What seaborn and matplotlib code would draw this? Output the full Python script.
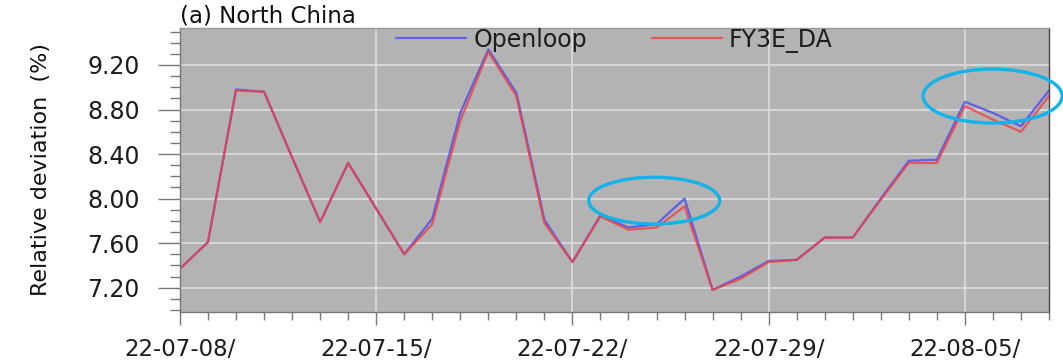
import pandas as pd
import matplotlib.pyplot as plt
import matplotlib.dates as mdates
from matplotlib.ticker import MultipleLocator, FixedLocator, FormatStrFormatter
from matplotlib.patches import Ellipse
import seaborn as sns

# =========================================================
# DATA
# =========================================================

dates = pd.date_range("2022-07-08", "2022-08-08", freq="D")

openloop = [7.37, 7.61, 8.98, 8.96, 8.37, 7.79, 8.32, 7.91, 7.50, 7.82,
            8.77, 9.34, 8.95, 7.81, 7.43, 7.85, 7.74, 7.77, 8.00, 7.18,
            7.30, 7.44, 7.45, 7.65, 7.65, 8.00, 8.34, 8.35, 8.87, 8.77,
            8.65, 8.97]

fy3e_da = [7.37, 7.61, 8.97, 8.96, 8.37, 7.79, 8.32, 7.91, 7.50, 7.77,
           8.70, 9.32, 8.92, 7.78, 7.43, 7.84, 7.72, 7.74, 7.93, 7.18,
           7.28, 7.43, 7.45, 7.65, 7.65, 7.99, 8.32, 8.32, 8.83, 8.71,
           8.60, 8.92]

series_names = ["Openloop", "FY3E_DA"]
y_ticks = [7.20, 7.60, 8.00, 8.40, 8.80, 9.20]
x_tick_dates = pd.to_datetime(["2022-07-08", "2022-07-15", "2022-07-22",
                               "2022-07-29", "2022-08-05"])

df = pd.DataFrame({
    "date": list(dates) * 2,
    "value": openloop + fy3e_da,
    "run": [series_names[0]] * len(dates) + [series_names[1]] * len(dates),
})

# =========================================================
# STYLE
# =========================================================

sns.set_theme(style="darkgrid", rc={
    "axes.facecolor": "#b3b3b3",
    "grid.color": "#dadada",
    "grid.linewidth": 1.3,
    "xtick.bottom": True,
    "ytick.left": True,
    "xtick.direction": "out",
    "ytick.direction": "out",
    "xtick.major.size": 9.5,
    "xtick.minor.size": 6,
    "ytick.major.size": 16,
    "ytick.minor.size": 7,
    "xtick.major.pad": 9,
    "ytick.major.pad": 13,
    "xtick.color": "#777777",
    "ytick.color": "#777777",
    "xtick.labelcolor": "#1c1c1c",
    "ytick.labelcolor": "#1c1c1c",
})
plt.rcParams["font.family"] = ["DejaVu Sans"]

fig = plt.figure(figsize=(10.63, 3.61), dpi=100)
ax = fig.add_axes([0.1693, 0.1349, 0.8175, 0.7884])

# =========================================================
# LINES
# =========================================================

sns.lineplot(
    data=df, x="date", y="value", hue="run",
    palette={"Openloop": "#4a4af5", "FY3E_DA": "#f04040"},
    linewidth=1.6, alpha=0.8, ax=ax
)

# highlight ellipses
for cx, cy, w, h in [("2022-07-24 22:00", 7.982, 4.67, 0.42),
                     ("2022-08-05 23:45", 8.921, 4.96, 0.485)]:
    ax.add_patch(Ellipse((mdates.date2num(pd.Timestamp(cx)), cy), w, h,
                         fill=False, edgecolor="#12b2ea", linewidth=2.4,
                         clip_on=False, zorder=5))

# =========================================================
# AXES
# =========================================================

ax.set_xlim(dates[0], dates[-1])
ax.set_ylim(6.979, 9.535)

ax.xaxis.set_major_locator(FixedLocator(mdates.date2num(x_tick_dates)))
ax.xaxis.set_major_formatter(mdates.DateFormatter("%y-%m-%d/"))
ax.xaxis.set_minor_locator(mdates.DayLocator())
ax.yaxis.set_major_locator(FixedLocator(y_ticks))
ax.yaxis.set_major_formatter(FormatStrFormatter("%.2f"))
ax.yaxis.set_minor_locator(MultipleLocator(0.1))

ax.grid(which="major", color="#dadada", linewidth=1.3)
ax.grid(which="minor", visible=False)

ax.tick_params(axis="x", which="major", length=9.5, width=1.0, pad=9, labelsize=16.5)
ax.tick_params(axis="x", which="minor", length=6, width=1.0)
ax.tick_params(axis="y", which="major", length=16, width=1.0, pad=13, labelsize=17)
ax.tick_params(axis="y", which="minor", length=7, width=1.0)

for side in ["left", "bottom", "right", "top"]:
    ax.spines[side].set_visible(True)
    ax.spines[side].set_linewidth(1.0)
ax.spines["left"].set_color("#777777")
ax.spines["bottom"].set_color("#777777")
ax.spines["right"].set_color("#444444")
ax.spines["top"].set_color("#999999")

ax.set_xlabel("")
ax.set_ylabel("Relative deviation  (%)", fontsize=16, color="#111111")
ax.yaxis.set_label_coords(-0.148, 0.5)

ax.set_title("(a) North China", loc="left", fontsize=16.5, pad=3.5,
             color="#111111")

ax.legend(
    loc="upper center", bbox_to_anchor=(0.5, 1.0), ncol=2, frameon=False,
    fontsize=17, handlelength=2.97, columnspacing=2.75, handletextpad=0.3,
    borderaxespad=0.0, borderpad=0.0, labelcolor="#1c1c1c"
)

plt.savefig("out.png", dpi=100)
